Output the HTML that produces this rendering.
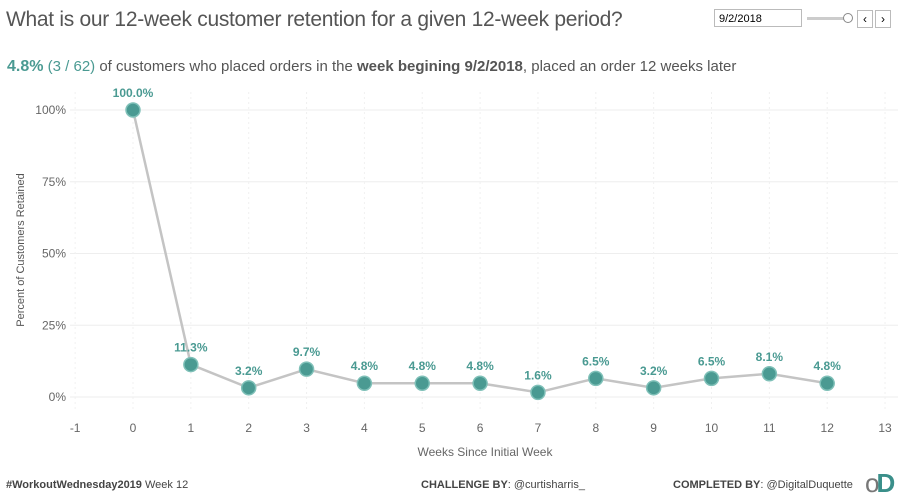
<!DOCTYPE html>
<html><head><meta charset="utf-8"><style>
body{margin:0;width:898px;height:501px;background:#fff;font-family:"Liberation Sans",sans-serif;overflow:hidden;position:relative}
.t{position:absolute;white-space:nowrap}
</style></head><body>
<div class="t" style="left:6px;top:8px;font-size:21px;color:#555;letter-spacing:-0.3px">What is our 12-week customer retention for a given 12-week period?</div>
<div style="position:absolute;left:714px;top:9px;height:18px;border:1px solid #bbb;font-size:11px;line-height:18px;padding-left:4px;box-sizing:border-box;width:88px">9/2/2018</div>
<div style="position:absolute;left:807px;top:17px;width:40px;height:3px;background:#ccc"></div>
<div style="position:absolute;left:843px;top:13px;width:8px;height:8px;border:1px solid #888;border-radius:50%;background:#fff"></div>
<div style="position:absolute;left:857px;top:10px;width:14px;height:16px;border:1px solid #bbb;font-size:12px;text-align:center;line-height:16px">&lsaquo;</div>
<div style="position:absolute;left:875px;top:10px;width:14px;height:16px;border:1px solid #bbb;font-size:12px;text-align:center;line-height:16px">&rsaquo;</div>
<div class="t" style="left:7px;top:58px;font-size:15px;color:#555"><b style="color:#4a9a92;font-size:16px">4.8%</b> <span style="color:#4a9a92">(3 / 62)</span> of customers who placed orders in the <b>week begining 9/2/2018</b>, placed an order 12 weeks later</div>
<svg id="c" width="898" height="501" style="position:absolute;left:0;top:0"></svg>
<div class="t" style="left:6px;top:479px;font-size:11px;color:#444"><b>#WorkoutWednesday2019</b> Week 12</div>
<div class="t" style="left:421px;top:479px;font-size:11px;color:#444"><b>CHALLENGE BY</b>: @curtisharris_</div>
<div class="t" style="left:673px;top:479px;font-size:11px;color:#444"><b>COMPLETED BY</b>: @DigitalDuquette</div>
<div class="t" style="left:865px;top:468px;font-size:26px;color:#3a8f8a;font-weight:bold;letter-spacing:-3px"><span style="color:#777;font-weight:normal">o</span>D</div>
<script>
const weeks=[0,1,2,3,4,5,6,7,8,9,10,11,12];
const values=[100,11.3,3.2,9.7,4.8,4.8,4.8,1.6,6.5,3.2,6.5,8.1,4.8];
const labels=["100.0%","11.3%","3.2%","9.7%","4.8%","4.8%","4.8%","1.6%","6.5%","3.2%","6.5%","8.1%","4.8%"];
const xTicks=[-1,0,1,2,3,4,5,6,7,8,9,10,11,12,13];
const yTicks=[0,25,50,75,100];
const yTickLabels=["0%","25%","50%","75%","100%"];
const svg=document.getElementById('c');const NS='http://www.w3.org/2000/svg';
const x=v=>133+(v)*57.85, y=v=>397-v*2.87;
function el(t,a,p){const e=document.createElementNS(NS,t);for(const k in a)e.setAttribute(k,a[k]);(p||svg).appendChild(e);return e;}
yTicks.forEach((t,i)=>{const g=el('line',{x1:70,x2:898,y1:y(t),y2:y(t),stroke:'#eee'});

const tx=el('text',{x:66,y:y(t)+4,'text-anchor':'end','font-size':12,fill:'#666'});tx.textContent=yTickLabels[i];
});
xTicks.forEach(t=>{const g=el('line',{x1:x(t),x2:x(t),y1:92,y2:412,stroke:'#f0f0f0','stroke-dasharray':'2,3'});

const tx=el('text',{x:x(t),y:432,'text-anchor':'middle','font-size':12,fill:'#666'});tx.textContent=t;
});
const yt=el('text',{x:24,y:250,'text-anchor':'middle','font-size':11,fill:'#555',transform:'rotate(-90 24 250)'});yt.textContent='Percent of Customers Retained';

const xt=el('text',{x:485,y:456,'text-anchor':'middle','font-size':12,fill:'#666'});xt.textContent='Weeks Since Initial Week';

const line=el('polyline',{points:weeks.map((w,i)=>x(w)+','+y(values[i])).join(' '),fill:'none',stroke:'#c4c4c4','stroke-width':2.5});

weeks.forEach((w,i)=>{const c=el('circle',{cx:x(w),cy:y(values[i]),r:7,fill:'#4a9a92',stroke:'#7fc0b8','stroke-width':1.5});

const t=el('text',{x:x(w),y:y(values[i])-13,'text-anchor':'middle','font-size':12,'font-weight':'bold',fill:'#4a9a92'});t.textContent=labels[i];
});
</script>
</body></html>
